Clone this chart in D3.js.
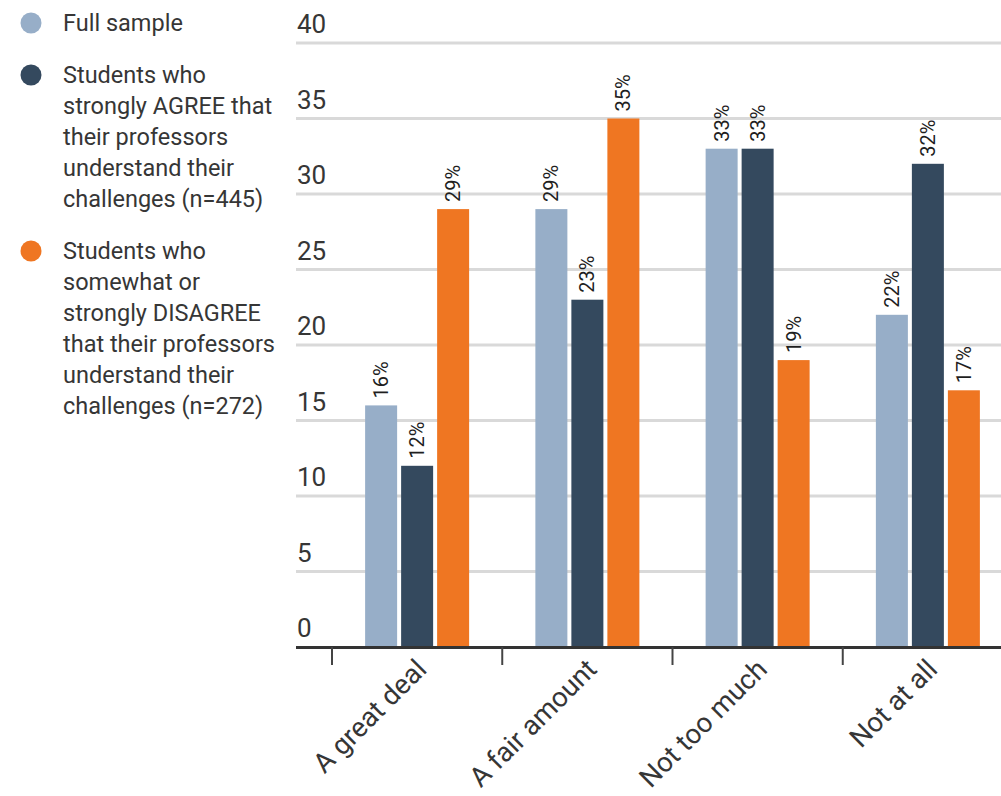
<!DOCTYPE html>
<html>
<head>
<meta charset="utf-8">
<script src="https://cdn.jsdelivr.net/npm/d3@7"></script>
<style>
  html, body { margin: 0; padding: 0; background: #fff; }
  svg { display: block; font-family: Roboto, "Noto Sans", sans-serif; }
</style>
</head>
<body>
<svg id="chart" width="1001" height="796"></svg>
<script>
// Responses to: how much do you feel your professors understand your challenges?
const categories = ["A great deal", "A fair amount", "Not too much", "Not at all"];
const seriesNames = ["Full sample", "Students who strongly AGREE", "Students who somewhat or strongly DISAGREE"];
const fullSample = [16, 29, 33, 22];
const stronglyAgree = [12, 23, 33, 32];
const disagree = [29, 35, 19, 17];
const yTicks = [0, 5, 10, 15, 20, 25, 30, 35, 40];
const colors = ["#97aec8", "#34495e", "#ef7622"];
const legendLines = [
  ["Full sample"],
  ["Students who", "strongly AGREE that", "their professors", "understand their", "challenges (n=445)"],
  ["Students who", "somewhat or", "strongly DISAGREE", "that their professors", "understand their", "challenges (n=272)"]
];

const series = [fullSample, stronglyAgree, disagree];

const svg = d3.select("#chart");
const textColor = "#363636";

const plotLeft = 296, plotRight = 1001;
const x = d3.scaleBand().domain(categories).range([332, 1013]).paddingInner(0).paddingOuter(0);
const y = d3.scaleLinear().domain([0, 40]).range([647, 43]);

// gridlines + y labels
const grid = svg.append("g");
yTicks.forEach(t => {
  if (t > 0) {
    grid.append("line")
      .attr("x1", plotLeft).attr("x2", plotRight)
      .attr("y1", y(t)).attr("y2", y(t))
      .attr("stroke", "#d9d9d9").attr("stroke-width", 3);
  }
  grid.append("text")
    .attr("x", 297).attr("y", y(t) - 10)
    .attr("font-size", 26).attr("fill", textColor)
    .text(t);
});

// bars with rotated value labels
const barW = 32, gap = 4;
const groupW = barW * 3 + gap * 2;
const g = svg.append("g");
categories.forEach((c, i) => {
  const cx = x(c) + x.bandwidth() / 2;
  series.forEach((s, k) => {
    const bx = cx - groupW / 2 + k * (barW + gap);
    g.append("rect")
      .attr("x", bx).attr("y", y(s[i]))
      .attr("width", barW).attr("height", y(0) - y(s[i]))
      .attr("fill", colors[k]);
    g.append("text")
      .attr("transform", `translate(${bx + barW / 2 + 7},${y(s[i]) - 7}) rotate(-90)`)
      .attr("font-size", 20).attr("fill", "#1f1f1f")
      .text(s[i] + "%");
  });
});

// x axis baseline, ticks between groups, slanted category labels
const xAxis = svg.append("g");
xAxis.append("line")
  .attr("x1", plotLeft).attr("x2", plotRight)
  .attr("y1", 647.5).attr("y2", 647.5)
  .attr("stroke", "#333").attr("stroke-width", 3);
categories.forEach(c => {
  const tx = x(c);
  xAxis.append("line")
    .attr("x1", tx).attr("x2", tx)
    .attr("y1", 647).attr("y2", 665)
    .attr("stroke", "#444").attr("stroke-width", 2);
  const cx = tx + x.bandwidth() / 2;
  xAxis.append("text")
    .attr("transform", `translate(${cx + 11},${671}) rotate(-45)`)
    .attr("text-anchor", "end")
    .attr("font-size", 27.5).attr("fill", textColor)
    .text(c);
});

// legend
const legend = svg.append("g");
const lineH = 31;
let ly = 23;
legendLines.forEach((lines, k) => {
  legend.append("circle")
    .attr("cx", 31).attr("cy", ly).attr("r", 10.5)
    .attr("fill", colors[k]);
  lines.forEach((ln, j) => {
    legend.append("text")
      .attr("x", 63).attr("y", ly + j * lineH + 8)
      .attr("font-size", 23.5).attr("fill", textColor)
      .text(ln);
  });
  ly += lines.length * lineH + 21;
});
</script>
</body>
</html>
